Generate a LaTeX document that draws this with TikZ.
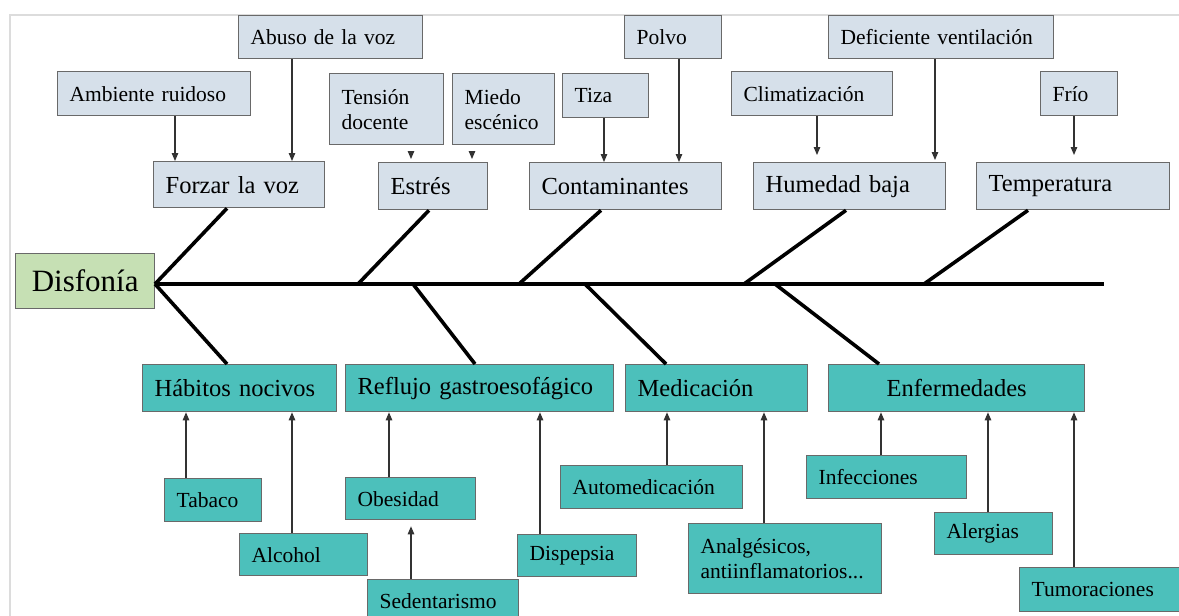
\documentclass[tikz,border=0pt]{standalone}
\usepackage{fontspec}
\setmainfont{Liberation Serif}
\usetikzlibrary{arrows.meta}
\definecolor{topfill}{RGB}{214,224,234}
\definecolor{botfill}{RGB}{76,192,187}
\definecolor{greenfill}{RGB}{198,224,180}
\definecolor{edgec}{RGB}{105,105,105}
\definecolor{framec}{RGB}{220,220,220}
\definecolor{arrc}{RGB}{50,50,50}
\tikzset{
 boxbase/.style={draw=edgec, line width=1.3pt, rectangle, inner xsep=12pt, inner ysep=0pt, align=left, anchor=north west},
 topbox/.style={boxbase, fill=topfill},
 botbox/.style={boxbase, fill=botfill},
 medtext/.style={font=\fontsize{24.5}{28}\selectfont},
 smalltext/.style={font=\fontsize{21.5}{25}\selectfont},
 arr/.style={draw=arrc, line width=1.1pt, -{Triangle[length=8pt,width=6.5pt]}},
 bone/.style={line width=3.6pt, black},
}
\newcommand\bx[7]{%
 \pgfmathsetmacro\bxw{#5-#3}\pgfmathsetmacro\bxh{#6-#4}\pgfmathsetmacro\bxt{#5-#3-24}%
 \node[#2, minimum width=\bxw pt, minimum height=\bxh pt, text width=\bxt pt] (#1) at (#3,#4) {#7};}
\begin{document}
\begin{tikzpicture}[x=1pt,y=-1pt]
\useasboundingbox (0,0) rectangle (1179,616);
\fill[white] (0,0) rectangle (1179,616);
\draw[framec, line width=2pt] (10,616) -- (10,15) -- (1179,15);
% top row
\bx{abuso}{topbox,smalltext}{238}{15}{422}{58}{Abuso de la voz}
\bx{polvo}{topbox,smalltext}{624}{15}{721}{58}{Polvo}
\bx{defic}{topbox,smalltext}{828}{15}{1053}{58}{Deficiente ventilación}
\bx{ambiente}{topbox,smalltext}{57}{71}{250}{115}{Ambiente ruidoso}
\bx{tension}{topbox,smalltext}{329}{73}{443}{144}{Tensión\\docente}
\bx{miedo}{topbox,smalltext}{452}{73}{554}{144}{Miedo\\escénico}
\bx{tiza}{topbox,smalltext}{562}{73}{648}{117}{Tiza}
\bx{clima}{topbox,smalltext}{731}{71}{892}{115}{Climatización}
\bx{frio}{topbox,smalltext}{1040}{71}{1117}{115}{Frío}
% main causes top
\bx{forzar}{topbox,medtext}{153}{161}{324}{207}{Forzar la voz}
\bx{estres}{topbox,medtext}{378}{162}{487}{209}{Estrés}
\bx{contam}{topbox,medtext}{529}{162}{721}{209}{Contaminantes}
\bx{humedad}{topbox,medtext}{753}{162}{945}{209}{Humedad baja}
\bx{temp}{topbox,medtext}{976}{162}{1169}{209}{Temperatura}
% head
\node[draw=edgec, fill=greenfill, line width=1.3pt, minimum width=139pt, minimum height=55pt, anchor=north west, inner sep=0pt, font=\fontsize{31}{34}\selectfont] (disf) at (15,253) {Disfonía};
% main causes bottom
\bx{habitos}{botbox,medtext}{142}{364}{336}{411}{Hábitos nocivos}
\bx{reflujo}{botbox,medtext}{345}{364}{613}{411}{Reflujo gastroesofágico}
\bx{medic}{botbox,medtext}{625}{364}{807}{411}{Medicación}
\bx{enferm}{botbox,medtext,align=center}{828}{364}{1084}{411}{Enfermedades}
% sub causes bottom
\bx{tabaco}{botbox,smalltext}{164}{478}{261}{521}{Tabaco}
\bx{alcohol}{botbox,smalltext}{239}{533}{367}{575}{Alcohol}
\bx{obesidad}{botbox,smalltext}{345}{477}{475}{519}{Obesidad}
\bx{sedent}{botbox,smalltext}{367}{579}{518}{621}{Sedentarismo}
\bx{dispep}{botbox,smalltext}{517}{534}{636}{576}{Dispepsia}
\bx{automed}{botbox,smalltext}{560}{465}{742}{508}{Automedicación}
\bx{analg}{botbox,smalltext}{688}{523}{881}{593}{Analgésicos,\\antiinflamatorios...}
\bx{infec}{botbox,smalltext}{806}{455}{966}{498}{Infecciones}
\bx{alerg}{botbox,smalltext}{934}{512}{1052}{554}{Alergias}
\bx{tumor}{botbox,smalltext}{1019}{567}{1190}{611}{Tumoraciones}
% spine
\coordinate (head) at (155,284);
\coordinate (spineend) at (1104,284);
\coordinate (s1) at (358,284);
\coordinate (s2) at (519,284);
\coordinate (s3) at (744,284);
\coordinate (s4) at (924,284);
\coordinate (b1) at (413,284);
\coordinate (b2) at (585,284);
\coordinate (b3) at (775,284);
\draw[bone] (head) -- (spineend);
\draw[bone] (forzar.south -| 227,0) -- (head);
\draw[bone] (estres.south -| 429,0) -- (s1);
\draw[bone] (contam.south -| 601,0) -- (s2);
\draw[bone] (humedad.south -| 846,0) -- (s3);
\draw[bone] (temp.south -| 1028,0) -- (s4);
\draw[bone] (habitos.north -| 227,0) -- (head);
\draw[bone] (reflujo.north -| 475,0) -- (b1);
\draw[bone] (medic.north -| 666,0) -- (b2);
\draw[bone] (enferm.north -| 879,0) -- (b3);
% top arrows
\draw[arr] (ambiente.south -| 175,0) -- (forzar.north -| 175,0);
\draw[arr] (abuso.south -| 292,0) -- (forzar.north -| 292,0);
\draw[arr, shorten <=6pt, shorten >=3pt] (tension.south -| 411,0) -- (estres.north -| 411,0);
\draw[arr, shorten <=6pt, shorten >=3pt] (miedo.south -| 472,0) -- (estres.north -| 472,0);
\draw[arr] (tiza.south -| 604,0) -- (contam.north -| 604,0);
\draw[arr] (polvo.south -| 679,0) -- (contam.north -| 679,0);
\draw[arr, shorten >=7pt] (clima.south -| 817,0) -- (humedad.north -| 817,0);
\draw[arr, shorten >=2pt] (defic.south -| 935,0) -- (humedad.north -| 935,0);
\draw[arr, shorten >=7pt] (frio.south -| 1074,0) -- (temp.north -| 1074,0);
% bottom arrows
\draw[arr] (tabaco.north -| 186,0) -- (habitos.south -| 186,0);
\draw[arr] (alcohol.north -| 292,0) -- (habitos.south -| 292,0);
\draw[arr] (obesidad.north -| 389,0) -- (reflujo.south -| 389,0);
\draw[arr, shorten >=6pt] (sedent.north -| 411,0) -- (obesidad.south -| 411,0);
\draw[arr] (dispep.north -| 540,0) -- (reflujo.south -| 540,0);
\draw[arr] (automed.north -| 667,0) -- (medic.south -| 667,0);
\draw[arr] (analg.north -| 764,0) -- (medic.south -| 764,0);
\draw[arr] (infec.north -| 881,0) -- (enferm.south -| 881,0);
\draw[arr] (alerg.north -| 988,0) -- (enferm.south -| 988,0);
\draw[arr] (tumor.north -| 1074,0) -- (enferm.south -| 1074,0);
\end{tikzpicture}
\end{document}
